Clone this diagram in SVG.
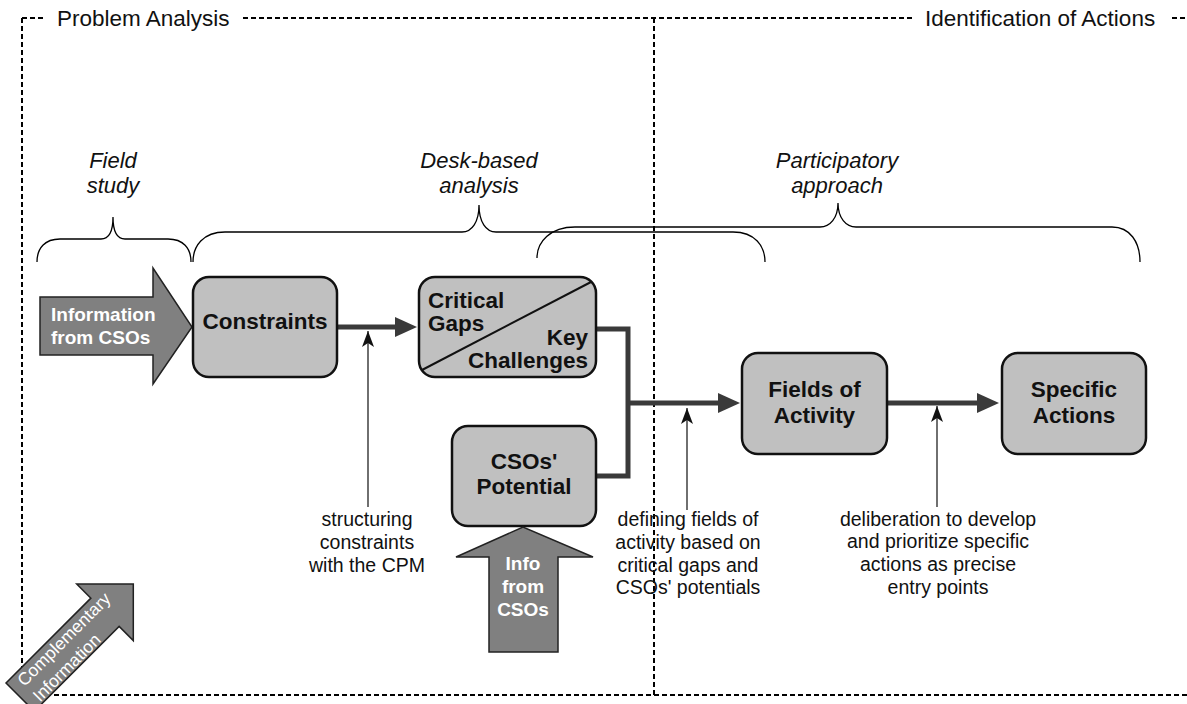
<svg xmlns="http://www.w3.org/2000/svg" width="1187" height="704" viewBox="0 0 1187 704">
<style>
.frame{fill:none;stroke:#000;stroke-width:2;stroke-dasharray:5,3}
.brace{fill:none;stroke:#000;stroke-width:1.3}
.box{fill:#c0c0c0;stroke:#111;stroke-width:2.5}
.bigarrow{fill:#808080;stroke:#222;stroke-width:1.5}
.thick{fill:none;stroke:#3a3a3a;stroke-width:5}
.thin{fill:none;stroke:#222;stroke-width:1.3}
.head{font-family:"Liberation Sans",Arial,sans-serif;font-size:22.5px;fill:#111}
.ital{font-family:"Liberation Sans",Arial,sans-serif;font-size:22px;font-style:italic;fill:#111;text-anchor:middle}
.lbl{font-family:"Liberation Sans",Arial,sans-serif;font-size:22.5px;font-weight:bold;fill:#111;text-anchor:middle}
.wlbl{font-family:"Liberation Sans",Arial,sans-serif;font-size:19px;font-weight:bold;fill:#fff}
.note{font-family:"Liberation Sans",Arial,sans-serif;font-size:19.5px;fill:#111;text-anchor:middle}
.comp{font-family:"Liberation Sans",Arial,sans-serif;font-size:17.5px;fill:#fff}
</style>
<defs>
<marker id="ah" markerUnits="userSpaceOnUse" viewBox="0 0 22 20" refX="12" refY="10" markerWidth="22" markerHeight="20" orient="auto">
<path d="M0,0 L22,10 L0,20 Z" fill="#3a3a3a"/>
</marker>
<marker id="ahThin" markerUnits="userSpaceOnUse" viewBox="0 0 16 12" refX="16" refY="6" markerWidth="16" markerHeight="12" orient="auto">
<path d="M0,0 L16,6 L0,12 L4,6 Z" fill="#111"/>
</marker>
</defs>

<g id="frame">
<line class="frame" x1="22" y1="18" x2="22" y2="695"/>
<line class="frame" x1="22" y1="18" x2="45" y2="18"/>
<line class="frame" x1="243" y1="18" x2="912" y2="18"/>
<line class="frame" x1="1172" y1="18" x2="1187" y2="18"/>
<line class="frame" x1="654" y1="18" x2="654" y2="695"/>
<line class="frame" x1="22" y1="695" x2="1187" y2="695"/>
<text class="head" x="57" y="26">Problem Analysis</text>
<text class="head" x="925" y="26">Identification of Actions</text>
</g>

<g id="braces">
<path class="brace" d="M37,262 C37,248 45,239 60,239 L101,239 C109,239 113,231 113,217 C113,231 117,239 125,239 L168,239 C183,239 191,248 191,262"/>
<path class="brace" d="M193,262 C193,246 203,232 225,232 L462,232 C472,232 479,222 479,205 C479,222 486,232 496,232 L733,232 C755,232 765,246 765,262"/>
<path class="brace" d="M537,258 C537,242 550,227 575,227 L820,227 C830,227 838,218 838,203 C838,218 846,227 856,227 L1112,227 C1130,227 1140,242 1140,262"/>
<text class="ital" x="113" y="168">Field</text>
<text class="ital" x="113" y="193">study</text>
<text class="ital" x="479" y="168">Desk-based</text>
<text class="ital" x="479" y="193">analysis</text>
<text class="ital" x="837" y="168">Participatory</text>
<text class="ital" x="837" y="193">approach</text>
</g>

<g id="connectors">
<path class="thick" d="M337,327 H407" marker-end="url(#ah)"/>
<path class="thick" d="M596,329 H628 V476 H596"/>
<path class="thick" d="M628,403 H730" marker-end="url(#ah)"/>
<path class="thick" d="M887,403 H989" marker-end="url(#ah)"/>
<path class="thin" d="M368,507 V331" marker-end="url(#ahThin)"/>
<path class="thin" d="M687,510 V408" marker-end="url(#ahThin)"/>
<path class="thin" d="M937,507 V406" marker-end="url(#ahThin)"/>
</g>

<g id="info-from-csos-left">
<path class="bigarrow" d="M40,297 H153 V268 L192,327 L153,384 V355 H40 Z"/>
<text class="wlbl" x="51" y="320.5">Information</text>
<text class="wlbl" x="51" y="344">from CSOs</text>
</g>

<g id="constraints">
<rect class="box" x="193" y="277" width="144" height="100" rx="16"/>
<text class="lbl" x="265" y="329">Constraints</text>
</g>

<g id="critical-gaps">
<rect class="box" x="419" y="277" width="177" height="100" rx="16"/>
<line x1="422" y1="370" x2="591" y2="282" stroke="#111" stroke-width="2"/>
<text class="lbl" x="428" y="308" text-anchor="start" style="text-anchor:start">Critical</text>
<text class="lbl" x="428" y="331" style="text-anchor:start">Gaps</text>
<text class="lbl" x="588" y="345" style="text-anchor:end">Key</text>
<text class="lbl" x="588" y="368" style="text-anchor:end">Challenges</text>
</g>

<g id="csos-potential">
<rect class="box" x="452" y="426" width="144" height="100" rx="16"/>
<text class="lbl" x="524" y="469">CSOs'</text>
<text class="lbl" x="524" y="494">Potential</text>
</g>

<g id="info-from-csos-bottom">
<path class="bigarrow" d="M489,652 V557 H456 L523,527 L593,557 H558 V652 Z"/>
<text class="wlbl" x="523" y="570" text-anchor="middle" style="text-anchor:middle">Info</text>
<text class="wlbl" x="523" y="593" style="text-anchor:middle">from</text>
<text class="wlbl" x="523" y="616" style="text-anchor:middle">CSOs</text>
</g>

<g id="fields-of-activity">
<rect class="box" x="742" y="353" width="145" height="101" rx="16"/>
<text class="lbl" x="814.5" y="397">Fields of</text>
<text class="lbl" x="814.5" y="423">Activity</text>
</g>

<g id="specific-actions">
<rect class="box" x="1002" y="353" width="144" height="101" rx="16"/>
<text class="lbl" x="1074" y="397">Specific</text>
<text class="lbl" x="1074" y="423">Actions</text>
</g>

<g id="note-structuring">
<text class="note" x="367" y="526">structuring</text>
<text class="note" x="367" y="549">constraints</text>
<text class="note" x="367" y="572">with the CPM</text>
</g>

<g id="note-defining">
<text class="note" x="688" y="526">defining fields of</text>
<text class="note" x="688" y="549">activity based on</text>
<text class="note" x="688" y="571.5">critical gaps and</text>
<text class="note" x="688" y="594">CSOs' potentials</text>
</g>

<g id="note-deliberation">
<text class="note" x="938" y="525.5">deliberation to develop</text>
<text class="note" x="938" y="548">and prioritize specific</text>
<text class="note" x="938" y="571">actions as precise</text>
<text class="note" x="938" y="593.5">entry points</text>
</g>

<g id="complementary-information" transform="translate(133.3,584) rotate(-45)">
<path class="bigarrow" d="M0,0 L-40,-40 L-40,-20 L-160,-20 L-160,20 L-40,20 L-40,40 Z"/>
<text class="comp" x="-150" y="-4">Complementary</text>
<text class="comp" x="-150" y="18">Information</text>
</g>
</svg>
